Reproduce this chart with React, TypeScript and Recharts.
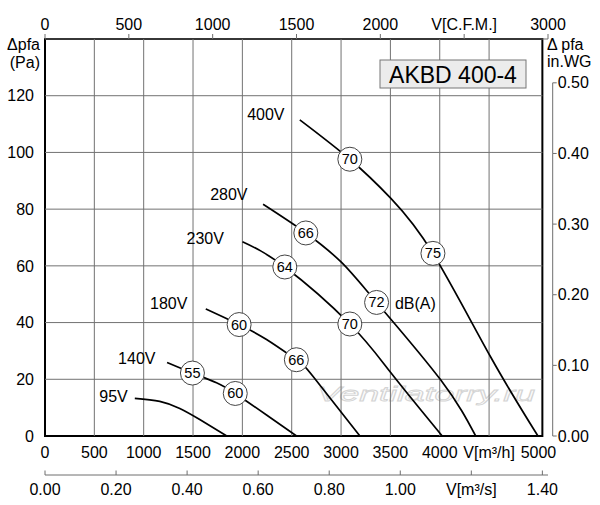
import React from 'react';
import {
  ComposedChart,
  Line,
  XAxis,
  YAxis,
  ReferenceLine,
  ReferenceArea,
  Scatter,
} from 'recharts';

const FONT = '"Liberation Sans", Arial, Helvetica, sans-serif';

// ---- layout (pixels) ----
const CHART_W = 600;
const CHART_H = 505;
const LEFT_W = 45;
const RIGHT_W = 52;
const TOP_GAP = 12;
const TOP_H = 27;
const BOTTOM_H1 = 39;
const BOTTOM_H2 = 30;
const PLOT_H = CHART_H - TOP_GAP - TOP_H - BOTTOM_H1 - BOTTOM_H2;

// ---- unit conversions ----
const M3H_PER_CFM = 1.69901;
const M3H_PER_M3S = 3600;
const PA_PER_INWG = 249.089;

// ---- axis ranges ----
const CFM_MAX = 3000;
const X_MAX = CFM_MAX * M3H_PER_CFM; // m3/h at right end of CFM scale
const M3S_MAX = X_MAX / M3H_PER_M3S;
const Y_MAX = 140;
const INWG_MAX = Y_MAX / PA_PER_INWG;
const X_FRAME = 1.4 * M3H_PER_M3S; // frame right edge (1.40 m3/s)

// ---- tick values ----
const m3hTicks = [0, 500, 1000, 1500, 2000, 2500, 3000, 3500, 4000, 4500, 5000];
const cfmTicks = [0, 500, 1000, 1500, 2000, 2500, 3000];
const m3sTicks = [0, 0.2, 0.4, 0.6, 0.8, 1.0, 1.2, 1.4];
const paTicks = [0, 20, 40, 60, 80, 100, 120];
const inwgTicks = [0, 0.1, 0.2, 0.3, 0.4, 0.5];
const gridX = [500, 1000, 1500, 2000, 2500, 3000, 3500, 4000, 4500];
const gridY = [20, 40, 60, 80, 100, 120];

// ---- fan curves (q = m3/h, p = Pa) ----
const curve400V = [
  { q: 2582, p: 111.5 },
  { q: 3089, p: 97.6 },
  { q: 3505, p: 83.8 },
  { q: 3931, p: 64.4 },
  { q: 4509, p: 28.3 },
  { q: 4995, p: 0 },
];
const curve280V = [
  { q: 2210, p: 81.7 },
  { q: 2643, p: 71.6 },
  { q: 3005, p: 61.2 },
  { q: 3360, p: 47.1 },
  { q: 4009, p: 19.8 },
  { q: 4364, p: 0 },
];
const curve230V = [
  { q: 2001, p: 68.5 },
  { q: 2430, p: 59.6 },
  { q: 3089, p: 39.5 },
  { q: 3505, p: 22.3 },
  { q: 4025, p: 0 },
];
const curve180V = [
  { q: 1629, p: 44.8 },
  { q: 1967, p: 39.3 },
  { q: 2245, p: 34.0 },
  { q: 2547, p: 26.9 },
  { q: 2717, p: 21.0 },
  { q: 3191, p: 0 },
];
const curve140V = [
  { q: 1237, p: 25.9 },
  { q: 1494, p: 22.2 },
  { q: 1738, p: 18.8 },
  { q: 1928, p: 15.0 },
  { q: 2245, p: 7.4 },
  { q: 2549, p: 0 },
];
const curve95V = [
  { q: 910, p: 13.3 },
  { q: 1163, p: 12.2 },
  { q: 1366, p: 9.7 },
  { q: 1568, p: 5.8 },
  { q: 1842, p: 0 },
];
const curves = [curve400V, curve280V, curve230V, curve180V, curve140V, curve95V];

// ---- sound level marks dB(A) ----
const noiseMarks = [
  { q: 3089, p: 97.6, db: 70 },
  { q: 3931, p: 64.4, db: 75 },
  { q: 2643, p: 71.6, db: 66 },
  { q: 3360, p: 47.1, db: 72 },
  { q: 2430, p: 59.6, db: 64 },
  { q: 3089, p: 39.5, db: 70 },
  { q: 1967, p: 39.3, db: 60 },
  { q: 2547, p: 26.9, db: 66 },
  { q: 1494, p: 22.2, db: 55 },
  { q: 1928, p: 15.0, db: 60 },
];

// ---- text annotations (anchored in data space) ----
const curveLabels = [
  { q: 2238, p: 113.2, text: '400V' },
  { q: 1863, p: 85.2, text: '280V' },
  { q: 1624, p: 69.8, text: '230V' },
  { q: 1254, p: 46.9, text: '180V' },
  { q: 930, p: 27.2, text: '140V' },
  { q: 694, p: 13.9, text: '95V' },
  { q: 3753, p: 46.9, text: 'dB(A)' },
];

// anchor points that bind the secondary scales to the chart (not drawn)
const cfmAnchor = [{ q: 0, p: 0 }];
const m3sAnchor = [{ q: 0, p: 0 }];
const gapAnchor = [{ q: 0, p: 0 }];

const AXIS_GRAY = '#6e6e6e';
const GRID_GRAY = '#727272';

const fmtM3h = (v: number) => (v === 4500 ? 'V[m³/h]' : String(v));
const fmtCfm = (v: number) => (v === 2500 ? 'V[C.F.M.]' : String(v));
const fmtM3s = (v: number) => (Math.abs(v - 1.2) < 1e-9 ? 'V[m³/s]' : v.toFixed(2));

const InwgTick = (props: any) => {
  const { x, y, payload } = props;
  const v = Number(payload.value);
  const lineX = Number(x) + 4.7;
  const seg = v > 1e-9 ? (PLOT_H * 0.1) / INWG_MAX : 0;
  return (
    <g>
      {seg > 0 && (
        <path d={`M${lineX},${y}V${y + seg}`} stroke={AXIS_GRAY} strokeWidth={1} fill="none" />
      )}
      <path d={`M${lineX},${y}H${lineX + 4}`} stroke={AXIS_GRAY} strokeWidth={1} fill="none" />
      <text x={lineX + 5} y={y} dominantBaseline="central" fontSize={16} fontFamily={FONT} fill="#000">
        {v.toFixed(2)}
      </text>
    </g>
  );
};

const NoiseBadge = (props: any) => {
  const { cx, cy, payload } = props;
  if (cx == null || cy == null) return null;
  return (
    <g>
      <circle cx={cx} cy={cy} r={12} fill="#fff" stroke="#444" strokeWidth={1} />
      <text
        x={cx}
        y={cy}
        textAnchor="middle"
        dominantBaseline="central"
        fontSize={14.5}
        fontFamily={FONT}
        fill="#000"
      >
        {payload.db}
      </text>
    </g>
  );
};

const TextMark = (props: any) => {
  const { cx, cy, payload } = props;
  if (cx == null || cy == null) return null;
  return (
    <text
      x={cx}
      y={cy}
      textAnchor="middle"
      dominantBaseline="central"
      fontSize={16}
      fontFamily={FONT}
      fill="#000"
    >
      {payload.text}
    </text>
  );
};

const Nothing = () => null;

const tickText = { fill: '#000', fontSize: 16, fontFamily: FONT };

export default function App() {
  return (
    <div
      style={{
        position: 'absolute',
        left: 0,
        top: 0,
        width: CHART_W,
        height: CHART_H,
        background: '#fff',
        fontFamily: FONT,
      }}
    >
      <svg
        width={CHART_W}
        height={CHART_H}
        style={{ position: 'absolute', left: 0, top: 0, zIndex: 0 }}
      >
        <text
          x={426}
          y={393}
          textAnchor="middle"
          dominantBaseline="central"
          fontSize={21}
          fontStyle="italic"
          fontFamily={FONT}
          textLength={218}
          lengthAdjust="spacingAndGlyphs"
          fill="#fbfbfb"
          stroke="#d4d4d4"
          strokeWidth={0.8}
        >
          Ventilatorry.ru
        </text>
      </svg>
      <div style={{ position: 'absolute', left: 0, top: 0, zIndex: 1 }}>
        <ComposedChart
          width={CHART_W}
          height={CHART_H}
          margin={{ top: 0, right: 0, bottom: 0, left: 0 }}
          style={{ fontFamily: FONT }}
        >
          <XAxis
            xAxisId="m3h"
            dataKey="q"
            type="number"
            orientation="bottom"
            domain={[0, X_MAX]}
            allowDataOverflow
            ticks={m3hTicks}
            interval={0}
            height={BOTTOM_H1}
            axisLine={false}
            tickLine={false}
            tickSize={0}
            tickMargin={11}
            tick={tickText}
            tickFormatter={fmtM3h}
          />
          <XAxis
            xAxisId="m3s"
            dataKey="q"
            type="number"
            orientation="bottom"
            domain={[0, M3S_MAX]}
            allowDataOverflow
            ticks={m3sTicks}
            interval={0}
            height={BOTTOM_H2}
            axisLine={{ stroke: AXIS_GRAY, strokeWidth: 1 }}
            tickLine={{ stroke: AXIS_GRAY, strokeWidth: 1 }}
            tickSize={-4.5}
            tickMargin={12.9}
            tick={tickText}
            tickFormatter={fmtM3s}
          />
          <XAxis
            xAxisId="gap"
            dataKey="q"
            type="number"
            orientation="top"
            domain={[0, 1]}
            allowDataOverflow
            height={TOP_GAP}
            axisLine={false}
            tickLine={false}
            tick={false}
          />
          <XAxis
            xAxisId="cfm"
            dataKey="q"
            type="number"
            orientation="top"
            domain={[0, CFM_MAX]}
            allowDataOverflow
            ticks={cfmTicks}
            interval={0}
            height={TOP_H}
            axisLine={{ stroke: AXIS_GRAY, strokeWidth: 1 }}
            tickLine={{ stroke: AXIS_GRAY, strokeWidth: 1 }}
            tickSize={5}
            tickMargin={3.7}
            tick={tickText}
            tickFormatter={fmtCfm}
          />
          <YAxis
            yAxisId="pa"
            dataKey="p"
            type="number"
            domain={[0, Y_MAX]}
            allowDataOverflow
            ticks={paTicks}
            interval={0}
            width={LEFT_W}
            axisLine={false}
            tickLine={false}
            tickSize={0}
            tickMargin={11}
            tick={tickText}
          />
          <YAxis
            yAxisId="inwg"
            orientation="right"
            type="number"
            domain={[0, INWG_MAX]}
            allowDataOverflow
            ticks={inwgTicks}
            interval={0}
            width={RIGHT_W}
            axisLine={false}
            tickLine={false}
            tickSize={0}
            tickMargin={0}
            tick={(p: any) => <InwgTick {...p} />}
          />

          {gridX.map((v) => (
            <ReferenceLine
              key={'gx' + v}
              xAxisId="m3h"
              yAxisId="pa"
              x={v}
              stroke={GRID_GRAY}
              strokeWidth={1}
            />
          ))}
          {gridY.map((v) => (
            <ReferenceLine
              key={'gy' + v}
              xAxisId="m3h"
              yAxisId="pa"
              segment={[
                { x: 0, y: v },
                { x: X_FRAME, y: v },
              ]}
              stroke={GRID_GRAY}
              strokeWidth={1}
            />
          ))}
          <ReferenceArea
            xAxisId="m3h"
            yAxisId="pa"
            x1={0}
            x2={X_FRAME}
            y1={0}
            y2={Y_MAX}
            fill="none"
            fillOpacity={0}
            stroke="#000"
            strokeWidth={2}
          />

          {curves.map((c, i) => (
            <Line
              key={'c' + i}
              xAxisId="m3h"
              yAxisId="pa"
              data={c}
              dataKey="p"
              type="natural"
              stroke="#000"
              strokeWidth={1.7}
              dot={false}
              activeDot={false}
              isAnimationActive={false}
            />
          ))}

          <Scatter xAxisId="cfm" yAxisId="pa" data={cfmAnchor} dataKey="p" shape={Nothing} isAnimationActive={false} />
          <Scatter xAxisId="m3s" yAxisId="pa" data={m3sAnchor} dataKey="p" shape={Nothing} isAnimationActive={false} />
          <Scatter xAxisId="gap" yAxisId="pa" data={gapAnchor} dataKey="p" shape={Nothing} isAnimationActive={false} />
          <Scatter
            xAxisId="m3h"
            yAxisId="pa"
            data={noiseMarks}
            dataKey="p"
            shape={(p: any) => <NoiseBadge {...p} />}
            isAnimationActive={false}
          />
          <Scatter
            xAxisId="m3h"
            yAxisId="pa"
            data={curveLabels}
            dataKey="p"
            shape={(p: any) => <TextMark {...p} />}
            isAnimationActive={false}
          />
        </ComposedChart>
      </div>
      <svg
        width={CHART_W}
        height={CHART_H}
        style={{ position: 'absolute', left: 0, top: 0, zIndex: 2, pointerEvents: 'none' }}
      >
        <rect x={380} y={60} width={146} height={28} fill="#ececec" stroke="#777" strokeWidth={1} />
        <text
          x={453}
          y={74.5}
          textAnchor="middle"
          dominantBaseline="central"
          fontSize={23}
          fontFamily={FONT}
          fill="#000"
        >
          AKBD 400-4
        </text>
        <text x={40} y={49.5} textAnchor="end" fontSize={16} fontFamily={FONT} fill="#000">
          Δpfa
        </text>
        <text x={40} y={68} textAnchor="end" fontSize={16} fontFamily={FONT} fill="#000">
          (Pa)
        </text>
        <text x={547} y={49.5} textAnchor="start" fontSize={16} fontFamily={FONT} fill="#000">
          Δ pfa
        </text>
        <text x={547} y={67} textAnchor="start" fontSize={16} fontFamily={FONT} fill="#000">
          in.WG
        </text>
      </svg>
    </div>
  );
}
